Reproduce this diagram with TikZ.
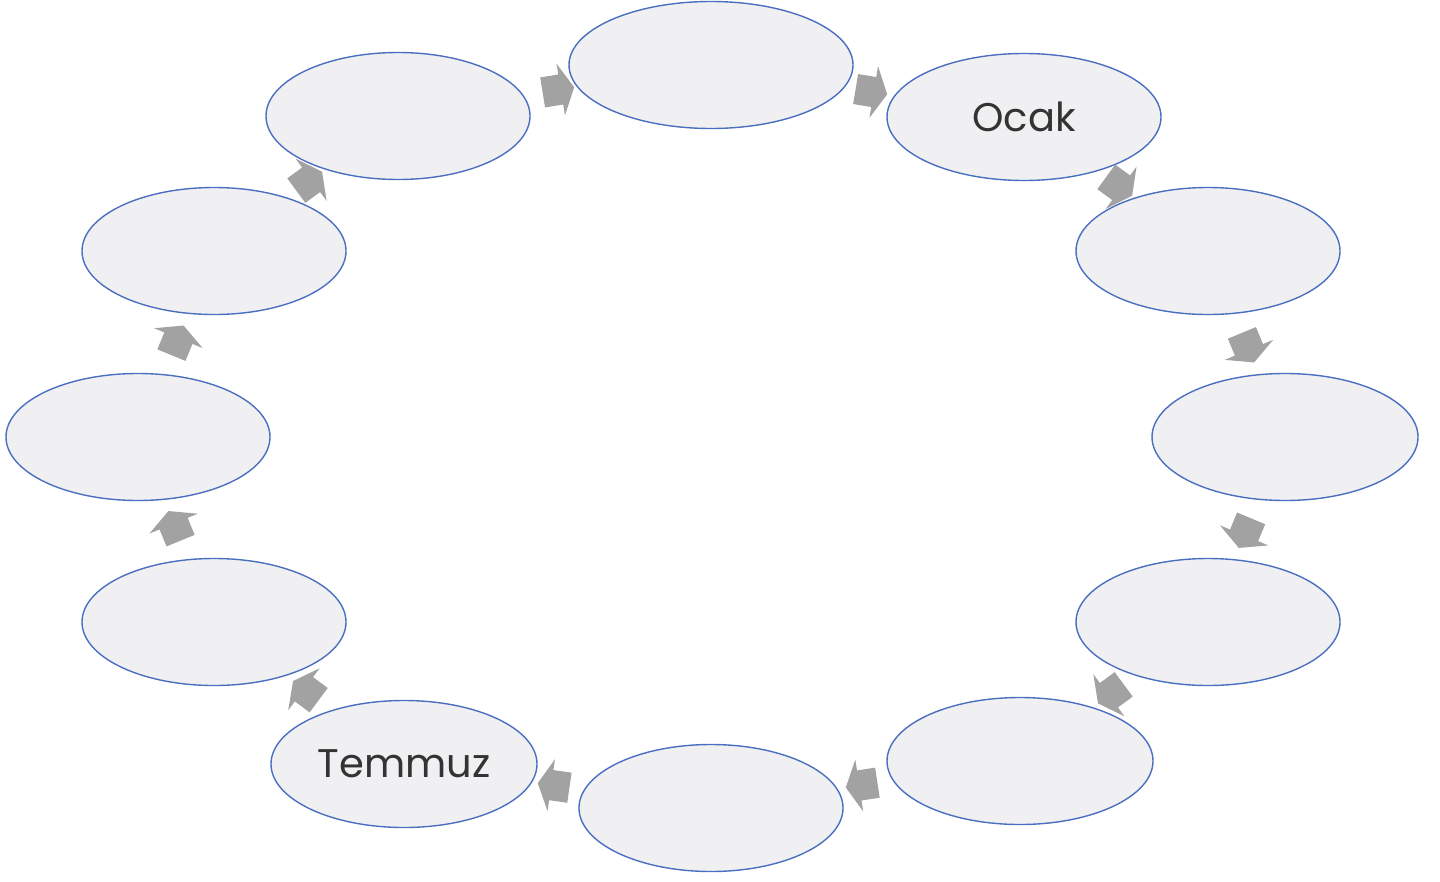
\documentclass[tikz,border=0pt]{standalone}
\usepackage{fontspec}
\setmainfont{Poppins}
\usetikzlibrary{shapes.geometric,shapes.arrows}
\definecolor{ellfill}{HTML}{F0F0F2}
\definecolor{elldraw}{HTML}{4A6FC0}
\definecolor{arrfill}{HTML}{A2A2A2}
\definecolor{txt}{HTML}{333333}
\tikzset{
  month/.style={ellipse, draw=elldraw, fill=ellfill, line width=1.4pt,
    minimum width=264pt, minimum height=127pt, inner sep=0pt,
    font=\fontsize{40}{46}\selectfont, text=txt},
  blockarrow/.style={single arrow, fill=arrfill, draw=none, sloped, allow upside down,
    inner xsep=0pt, inner ysep=15pt, minimum height=32pt,
    single arrow head extend=11pt, single arrow tip angle=125,
    pos=0.5}
}
\begin{document}
\begin{tikzpicture}[x=1pt,y=1pt]
\useasboundingbox (0,-881) rectangle (1440,0);
\node[month, minimum width=284pt] (m0) at (711,-65) {};
\node[month, minimum width=274pt] (m1) at (1024,-117) {Ocak};
\node[month] (m2) at (1208,-251) {};
\node[month, minimum width=266pt] (m3) at (1285,-437) {};
\node[month] (m4) at (1208,-622) {};
\node[month, minimum width=266pt] (m5) at (1020,-761) {};
\node[month] (m6) at (711,-808) {};
\node[month, minimum width=266pt] (m7) at (404,-764) {Temmuz};
\node[month] (m8) at (214,-622) {};
\node[month] (m9) at (138,-437) {};
\node[month] (m10) at (214,-251) {};
\node[month] (m11) at (398,-116) {};
\foreach \a/\b in {m0/m1,m1/m2,m2/m3,m3/m4,m4/m5,m5/m6,m6/m7,m7/m8,m8/m9,m9/m10,m10/m11,m11/m0}
  \path (\a.center) -- node[blockarrow] {} (\b.center);
\end{tikzpicture}
\end{document}
